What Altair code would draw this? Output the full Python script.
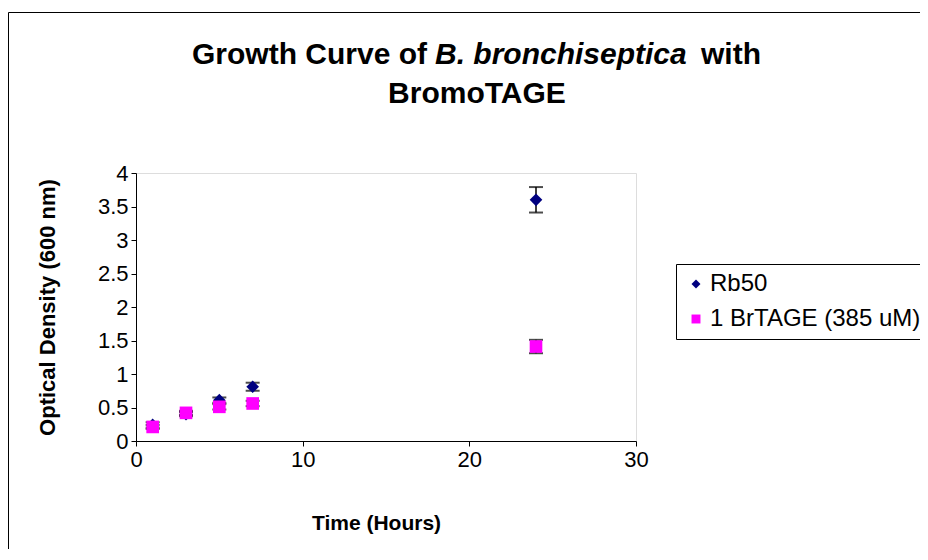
import altair as alt
import pandas as pd

# ---- data ----
time_hours = [1, 3, 5, 7, 24]
rb50_od = [0.24, 0.40, 0.61, 0.81, 3.60]
rb50_err = [0.04, 0.03, 0.04, 0.06, 0.19]
brtage_od = [0.21, 0.42, 0.51, 0.56, 1.41]
brtage_err = [0.03, 0.03, 0.04, 0.04, 0.10]
series_names = ["Rb50", "1 BrTAGE (385 uM)"]
series_colors = ["#000080", "#FF00FF"]
series_shapes = ["diamond", "square"]
x_ticks = [0, 10, 20, 30]
y_ticks = [0, 0.5, 1, 1.5, 2, 2.5, 3, 3.5, 4]

title_parts = ["Growth Curve of ", "B. bronchiseptica", "with", "BromoTAGE"]
x_title = "Time (Hours)"
y_title = "Optical Density (600 nm)"

rows = []
for name, vals, errs in [(series_names[0], rb50_od, rb50_err),
                         (series_names[1], brtage_od, brtage_err)]:
    for t, v, e in zip(time_hours, vals, errs):
        rows.append({"series": name, "time": t, "od": v, "lo": v - e, "hi": v + e})
df = pd.DataFrame(rows)

W, H = 500, 268
FONT = "Liberation Sans"

xs = alt.Scale(domain=[0, 30], nice=False, zero=False)
ys = alt.Scale(domain=[0, 4], nice=False)

x_axis = alt.Axis(values=x_ticks, title=x_title, grid=False, labelFontSize=22,
                  titleFontSize=21, titleFontWeight="bold", labelPadding=3,
                  titlePadding=42, tickSize=5, domainColor="black", tickColor="black",
                  labelColor="black", titleColor="black", labelFont=FONT, titleFont=FONT,
                  labelFlush=False, labelOverlap=False, titleX=240)
y_axis = alt.Axis(values=y_ticks, title=y_title, grid=False, labelFontSize=22, format="~g",
                  titleFontSize=22, titleFontWeight="bold", labelPadding=3,
                  titlePadding=38, tickSize=5, domainColor="black", tickColor="black",
                  labelColor="black", titleColor="black", labelFont=FONT, titleFont=FONT,
                  labelFlush=False, labelOverlap=False)


def X(field):
    return alt.X(field, type="quantitative", scale=xs, axis=x_axis)


def Y(field):
    return alt.Y(field, type="quantitative", scale=ys, axis=y_axis)


base = alt.Chart(df)

err_rule = base.mark_rule(color="black", strokeWidth=1.5).encode(
    x=X("time"), y=Y("lo"), y2="hi:Q")
cap_lo = base.mark_tick(color="black", size=14, thickness=2, orient="horizontal").encode(
    x=X("time"), y=Y("lo"))
cap_hi = base.mark_tick(color="black", size=14, thickness=2, orient="horizontal").encode(
    x=X("time"), y=Y("hi"))

points = base.mark_point(filled=True, opacity=1, size=160).encode(
    x=X("time"),
    y=Y("od"),
    color=alt.Color("series:N", sort=series_names,
                    scale=alt.Scale(domain=series_names, range=series_colors),
                    legend=alt.Legend(title=None, orient="none", legendX=540, legendY=91,
                                      strokeColor="black", fillColor="white",
                                      padding=8, labelFontSize=24, labelFont=FONT,
                                      labelColor="black", symbolSize=80,
                                      symbolStrokeWidth=0, rowPadding=11,
                                      labelOffset=2, labelLimit=400)),
    shape=alt.Shape("series:N", sort=series_names,
                    scale=alt.Scale(domain=series_names, range=series_shapes)),
)

one = pd.DataFrame({"k": [0]})

frame = alt.Chart(one).mark_rect(fill=None, stroke="black", strokeWidth=1).encode(
    x=alt.value(-127.5), x2=alt.value(900), y=alt.value(-160.5), y2=alt.value(500))

# title pieces (page x -> view x: minus 136)
t1 = alt.Chart(one).mark_text(text=title_parts[0], align="left", baseline="alphabetic",
                              font=FONT, fontSize=30, fontWeight="bold", color="black").encode(
    x=alt.value(192 - 136), y=alt.value(-109))
t2 = alt.Chart(one).mark_text(text=title_parts[1], align="left", baseline="alphabetic",
                              font=FONT, fontSize=30, fontWeight="bold", fontStyle="italic",
                              color="black").encode(
    x=alt.value(435 - 136), y=alt.value(-109))
t3 = alt.Chart(one).mark_text(text=title_parts[2], align="left", baseline="alphabetic",
                              font=FONT, fontSize=30, fontWeight="bold", color="black").encode(
    x=alt.value(701 - 136), y=alt.value(-109))
t4 = alt.Chart(one).mark_text(text=title_parts[3], align="center", baseline="alphabetic",
                              font=FONT, fontSize=30, fontWeight="bold", color="black").encode(
    x=alt.value(477 - 136), y=alt.value(-70))

chart = alt.layer(frame, err_rule, cap_lo, cap_hi, points, t1, t2, t3, t4).properties(
    width=W, height=H,
    autosize=alt.AutoSizeParams(type="none"),
    padding={"left": 128, "top": 165, "right": 284, "bottom": 108},
).configure_view(stroke="#808080", strokeWidth=2).configure(background="white")

chart.save("out.html", embed_options={"renderer": "svg", "actions": False})
